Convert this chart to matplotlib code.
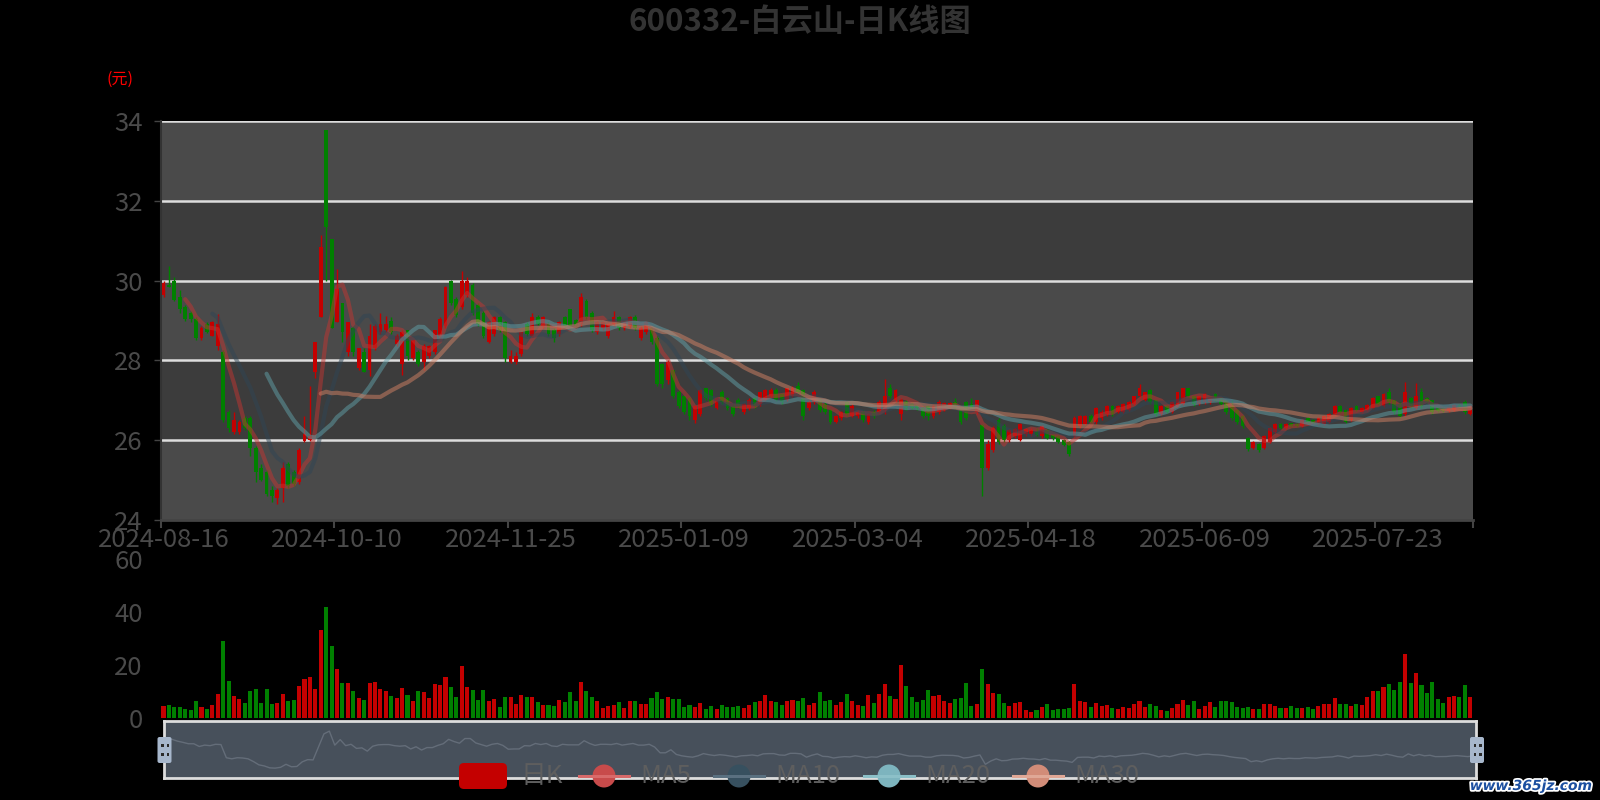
import matplotlib
matplotlib.use('Agg')
import matplotlib.pyplot as plt
import matplotlib.patheffects as pe
from matplotlib.patches import FancyBboxPatch, Circle, Rectangle
import numpy as np
import pandas as pd

plt.rcParams['font.family'] = ['Noto Sans CJK SC', 'DejaVu Sans']

# trading calendar (SSE holidays in the range)
holidays = ['2024-09-16', '2024-09-17', '2024-10-01', '2024-10-02', '2024-10-03',
            '2024-10-04', '2024-10-07', '2025-01-01', '2025-01-28', '2025-01-29',
            '2025-01-30', '2025-01-31', '2025-02-03', '2025-02-04', '2025-04-04',
            '2025-05-01', '2025-05-02', '2025-05-05', '2025-06-02']
dates = pd.bdate_range('2024-08-16', '2025-08-15', freq='C', holidays=holidays)
date_labels = dates.strftime('%Y-%m-%d').tolist()

open_p = [29.65, 29.90, 29.98, 29.60, 29.35, 29.20, 29.05, 28.55, 28.90, 28.60,
          28.35, 28.20, 26.70, 26.20, 26.20, 26.55, 26.55, 25.80, 25.30, 25.20,
          24.75, 24.55, 24.80, 25.40, 25.20, 24.95, 25.98, 26.00, 27.70, 29.10,
          33.77, 31.05, 28.95, 29.45, 28.20, 28.80, 27.80, 28.20, 27.75, 28.30,
          28.70, 28.75, 29.00, 28.40, 27.90, 28.75, 28.05, 28.20, 27.95, 28.10,
          28.20, 28.60, 28.85, 30.00, 29.55, 29.35, 29.65, 29.90, 29.40, 29.20,
          28.45, 28.65, 29.10, 28.95, 27.95, 27.95, 28.15, 28.90, 28.60, 29.10,
          28.85, 28.90, 28.75, 28.65, 29.10, 29.30, 29.00, 28.90, 29.50, 29.20,
          28.70, 28.80, 28.60, 28.90, 29.10, 28.80, 28.85, 29.10, 28.55, 28.70,
          28.80, 28.55, 27.90, 27.50, 27.75, 27.20, 27.10, 27.05, 26.50, 26.65,
          27.30, 27.25, 26.80, 27.20, 27.05, 26.85, 27.00, 26.70, 26.80, 27.05,
          26.90, 27.00, 27.10, 27.25, 27.15, 27.00, 27.10, 27.35, 27.25, 26.80,
          26.95, 27.00, 26.90, 26.75, 26.45, 26.55, 26.95, 26.60, 26.60, 26.70,
          26.45, 26.70, 26.70, 26.75, 27.30, 27.00, 26.65, 26.95, 26.90, 26.88,
          26.80, 26.85, 26.60, 26.70, 26.76, 26.80, 26.95, 26.80, 26.95, 26.90,
          26.70, 26.38, 25.30, 25.75, 26.50, 26.35, 26.00, 26.10, 26.00, 26.15,
          26.15, 26.20, 26.10, 26.25, 26.12, 26.10, 26.00, 25.95, 26.10, 26.35,
          26.40, 26.60, 26.45, 26.55, 26.65, 26.85, 26.70, 26.70, 26.75, 26.90,
          27.10, 27.00, 27.25, 27.00, 26.65, 26.85, 26.70, 26.85, 26.90, 27.30,
          27.10, 26.90, 26.95, 26.95, 27.15, 27.05, 27.00, 26.85, 26.75, 26.60,
          26.05, 25.80, 25.90, 25.80, 25.95, 26.20, 26.40, 26.30, 26.42, 26.40,
          26.35, 26.55, 26.50, 26.40, 26.40, 26.45, 26.65, 26.85, 26.75, 26.50,
          26.85, 26.70, 26.75, 26.80, 27.10, 26.85, 27.20, 27.00, 26.90, 26.65,
          27.05, 26.80, 27.20, 27.05, 27.00, 26.82, 26.80, 26.72, 26.75, 26.88,
          26.95, 26.65]

close_p = [29.95, 29.85, 29.52, 29.30, 29.05, 29.05, 28.55, 28.80, 28.70, 28.95,
           28.90, 26.50, 26.30, 26.50, 26.45, 26.30, 25.80, 25.20, 25.00, 24.65,
           24.60, 24.75, 25.30, 24.85, 24.90, 25.75, 26.15, 26.10, 28.45, 30.85,
           31.35, 28.80, 29.80, 28.70, 28.95, 28.20, 28.30, 27.70, 28.60, 28.85,
           28.90, 28.90, 28.70, 28.60, 28.70, 28.10, 28.50, 27.90, 28.35, 28.35,
           28.75, 29.05, 29.85, 29.45, 29.15, 30.00, 30.00, 29.20, 28.90, 28.60,
           28.95, 29.10, 28.75, 28.05, 28.10, 28.10, 28.70, 28.65, 29.10, 28.90,
           29.10, 28.65, 28.55, 28.95, 28.85, 28.85, 28.85, 29.60, 29.10, 28.75,
           28.95, 28.95, 28.90, 29.10, 28.80, 28.95, 29.10, 28.80, 28.80, 28.95,
           28.45, 27.40, 27.40, 27.95, 27.10, 26.85, 26.70, 26.60, 26.85, 27.25,
           27.05, 26.90, 27.05, 26.95, 26.80, 26.65, 26.85, 26.90, 27.00, 26.85,
           27.20, 27.25, 27.25, 27.00, 26.95, 27.30, 27.30, 27.20, 26.60, 26.95,
           27.20, 26.75, 26.70, 26.45, 26.60, 26.70, 26.65, 26.85, 26.70, 26.50,
           26.65, 26.60, 26.95, 27.10, 27.10, 27.25, 27.00, 26.80, 26.80, 26.80,
           26.60, 26.60, 26.85, 26.95, 26.93, 26.92, 26.80, 26.45, 26.55, 26.80,
           27.00, 25.30, 25.90, 26.30, 25.95, 26.00, 26.25, 26.28, 26.40, 26.28,
           26.25, 26.12, 26.35, 26.05, 26.05, 25.95, 25.88, 25.65, 26.55, 26.60,
           26.60, 26.45, 26.80, 26.70, 26.85, 26.65, 26.85, 26.90, 26.95, 27.10,
           27.30, 27.20, 26.95, 26.65, 26.85, 26.70, 26.95, 27.20, 27.30, 27.10,
           26.90, 27.10, 27.15, 27.05, 27.00, 26.90, 26.70, 26.55, 26.45, 26.35,
           25.78, 25.95, 25.75, 26.10, 26.30, 26.40, 26.30, 26.40, 26.35, 26.35,
           26.50, 26.45, 26.42, 26.55, 26.60, 26.65, 26.85, 26.70, 26.45, 26.80,
           26.75, 26.80, 26.88, 27.05, 26.90, 27.15, 26.95, 26.70, 26.60, 27.20,
           26.85, 27.10, 26.85, 26.95, 26.70, 26.72, 26.72, 26.82, 26.88, 26.80,
           26.70, 26.85]

low_p = [29.60, 29.83, 29.48, 29.20, 29.00, 28.97, 28.50, 28.50, 28.68, 28.60,
         28.25, 26.45, 26.20, 26.15, 26.15, 26.25, 25.60, 24.95, 24.97, 24.60,
         24.45, 24.40, 24.45, 24.80, 24.85, 24.90, 25.95, 25.98, 27.55, 29.10,
         30.00, 28.80, 28.95, 28.45, 28.10, 28.10, 27.75, 27.70, 27.60, 28.25,
         28.65, 28.70, 28.65, 28.35, 27.64, 28.00, 28.00, 27.85, 27.77, 28.05,
         28.15, 28.55, 28.80, 29.40, 29.10, 29.30, 29.60, 29.15, 28.85, 28.55,
         28.43, 28.60, 28.70, 27.95, 27.93, 27.90, 28.10, 28.60, 28.58, 28.88,
         28.80, 28.60, 28.45, 28.60, 28.80, 28.75, 28.82, 28.85, 29.05, 28.70,
         28.65, 28.75, 28.55, 28.85, 28.75, 28.75, 28.82, 28.75, 28.50, 28.65,
         28.40, 27.35, 27.30, 27.40, 27.05, 26.80, 26.65, 26.50, 26.43, 26.60,
         27.00, 26.85, 26.78, 26.90, 26.75, 26.60, 26.80, 26.65, 26.75, 26.80,
         26.85, 26.98, 27.08, 26.98, 26.90, 26.98, 27.08, 27.15, 26.50, 26.75,
         26.90, 26.70, 26.65, 26.40, 26.42, 26.50, 26.60, 26.58, 26.55, 26.45,
         26.40, 26.55, 26.68, 26.65, 27.05, 26.95, 26.50, 26.75, 26.78, 26.75,
         26.55, 26.50, 26.55, 26.65, 26.72, 26.78, 26.78, 26.40, 26.50, 26.78,
         26.65, 24.59, 25.25, 25.70, 25.90, 25.95, 25.95, 26.05, 25.98, 26.10,
         26.10, 26.10, 26.05, 26.02, 26.00, 25.92, 25.85, 25.60, 26.05, 26.30,
         26.38, 26.42, 26.40, 26.50, 26.60, 26.60, 26.68, 26.68, 26.72, 26.88,
         27.05, 26.98, 26.90, 26.60, 26.62, 26.68, 26.68, 26.82, 26.88, 27.05,
         26.85, 26.88, 26.90, 26.90, 26.98, 26.88, 26.65, 26.50, 26.40, 26.30,
         25.72, 25.78, 25.70, 25.78, 25.92, 26.18, 26.28, 26.28, 26.32, 26.32,
         26.32, 26.42, 26.40, 26.38, 26.38, 26.42, 26.62, 26.68, 26.42, 26.48,
         26.72, 26.68, 26.72, 26.78, 26.88, 26.82, 26.90, 26.65, 26.55, 26.60,
         26.80, 26.78, 26.80, 26.92, 26.65, 26.70, 26.70, 26.70, 26.72, 26.78,
         26.65, 26.62]

high_p = [30.00, 30.37, 30.10, 29.77, 29.40, 29.25, 29.10, 28.85, 28.95, 29.00,
          29.17, 28.25, 26.75, 26.70, 26.50, 26.60, 26.60, 25.85, 25.40, 25.25,
          24.85, 24.80, 25.45, 25.45, 25.25, 25.80, 26.60, 27.35, 28.45, 31.15,
          33.77, 31.05, 30.30, 29.45, 28.95, 28.85, 28.30, 28.30, 28.90, 28.90,
          29.20, 29.12, 29.10, 28.65, 28.76, 28.77, 28.50, 28.25, 28.40, 28.38,
          28.77, 29.08, 29.87, 30.02, 29.60, 30.23, 30.10, 29.95, 29.45, 29.25,
          29.00, 29.12, 29.12, 29.00, 28.25, 28.20, 28.72, 28.95, 29.20, 29.15,
          29.12, 28.95, 28.80, 29.00, 29.12, 29.30, 29.05, 29.70, 29.55, 29.25,
          29.00, 28.98, 28.95, 29.25, 29.12, 29.00, 29.12, 29.15, 28.85, 29.00,
          28.85, 28.60, 27.93, 28.02, 27.77, 27.25, 27.12, 27.08, 26.88, 27.28,
          27.32, 27.28, 27.08, 27.25, 27.08, 26.90, 27.05, 26.92, 27.05, 27.08,
          27.22, 27.28, 27.30, 27.30, 27.18, 27.32, 27.35, 27.45, 27.28, 27.00,
          27.25, 27.05, 26.95, 26.78, 26.62, 26.72, 26.98, 26.90, 26.75, 26.75,
          26.68, 26.75, 27.00, 27.53, 27.40, 27.28, 27.05, 27.00, 26.95, 26.90,
          26.85, 26.88, 26.90, 27.00, 26.95, 26.95, 27.05, 26.82, 26.98, 27.05,
          27.02, 26.40, 26.00, 26.35, 26.55, 26.40, 26.28, 26.30, 26.42, 26.30,
          26.30, 26.30, 26.38, 26.28, 26.15, 26.12, 26.02, 25.98, 26.60, 26.62,
          26.62, 26.65, 26.82, 26.75, 26.88, 26.88, 26.88, 26.92, 26.98, 27.12,
          27.42, 27.22, 27.28, 27.02, 26.88, 26.88, 26.98, 27.22, 27.32, 27.32,
          27.12, 27.12, 27.18, 27.08, 27.18, 27.08, 27.02, 27.00, 26.78, 26.62,
          26.08, 25.98, 25.92, 26.12, 26.32, 26.42, 26.42, 26.42, 26.44, 26.42,
          26.52, 26.58, 26.52, 26.58, 26.62, 26.68, 26.88, 26.88, 26.78, 26.82,
          26.88, 26.82, 26.90, 27.08, 27.12, 27.18, 27.30, 27.02, 26.95, 27.47,
          27.08, 27.43, 27.30, 27.08, 27.02, 26.85, 26.82, 26.85, 26.90, 26.90,
          27.02, 26.88]

volume = [4.4, 4.75, 4.25, 4.25, 3.4, 2.9, 6.4, 4.0, 3.5, 4.9,
          9.0, 29.1, 14.0, 8.25, 7.1, 5.5, 10.1, 10.9, 5.6, 10.9,
          5.1, 5.6, 9.0, 6.4, 6.9, 12.25, 14.9, 15.4, 11.1, 33.25,
          41.9, 27.0, 18.4, 13.1, 13.1, 10.1, 7.6, 6.75, 13.1, 13.4,
          11.1, 10.1, 8.25, 7.4, 11.5, 8.6, 6.4, 10.1, 9.9, 7.5,
          12.75, 12.4, 15.4, 11.6, 8.0, 19.5, 11.6, 10.4, 6.75, 10.4,
          6.25, 7.1, 4.1, 7.9, 7.9, 5.25, 8.6, 7.9, 8.1, 6.0,
          5.0, 5.0, 4.4, 6.75, 6.0, 9.75, 6.6, 13.5, 10.1, 7.75,
          6.25, 3.9, 4.6, 5.0, 6.0, 3.9, 6.5, 6.6, 5.4, 5.4,
          7.4, 9.9, 7.1, 8.0, 7.0, 7.0, 4.1, 4.75, 4.25, 5.5,
          3.5, 4.5, 3.4, 4.9, 4.1, 4.1, 4.5, 3.9, 5.0, 6.0,
          6.25, 8.6, 6.5, 5.9, 4.9, 6.4, 6.75, 6.5, 7.5, 4.75,
          5.5, 9.75, 6.6, 6.9, 4.75, 5.9, 9.0, 6.5, 4.9, 4.4,
          8.6, 5.5, 9.1, 12.75, 8.4, 7.1, 19.9, 12.25, 7.9, 6.0,
          6.9, 10.4, 8.25, 8.5, 6.5, 5.6, 7.1, 7.5, 13.1, 4.4,
          5.25, 18.6, 13.0, 9.4, 8.9, 5.5, 4.5, 5.5, 6.0, 3.0,
          2.1, 3.0, 4.1, 5.25, 3.0, 3.4, 3.4, 3.75, 12.75, 6.6,
          6.1, 4.1, 5.6, 4.5, 5.0, 3.75, 3.5, 4.25, 3.75, 5.25,
          6.4, 4.1, 5.25, 4.5, 3.0, 2.5, 3.75, 5.25, 6.75, 4.9,
          6.4, 3.25, 4.5, 6.0, 4.1, 6.4, 6.4, 6.0, 4.1, 3.75,
          4.1, 3.4, 3.4, 5.1, 5.1, 4.5, 3.75, 3.75, 4.4, 3.75,
          3.75, 4.25, 3.4, 4.4, 5.25, 5.25, 7.5, 5.25, 5.1, 4.5,
          5.25, 4.75, 7.75, 10.1, 10.1, 11.6, 12.75, 10.75, 13.5, 24.1,
          13.1, 16.9, 12.4, 9.25, 13.5, 7.1, 5.6, 7.75, 8.25, 7.9,
          12.6, 7.9]

ma_periods = [5, 10, 20, 30]
ma_colors = ['#c23531', '#2f4554', '#61a0a8', '#d48265']
up_color = '#c40000'
down_color = '#008000'
label_color = '#4a4a4a'

n = len(close_p)
x = np.arange(n)
o = np.array(open_p)
c = np.array(close_p)
colors = np.where(c >= o, up_color, down_color)

W, H = 1600, 800


def frac(left, top, right, bottom):
    return [left / W, 1 - bottom / H, (right - left) / W, (bottom - top) / H]


fig = plt.figure(figsize=(16, 8), dpi=100, facecolor='black')

# --- price panel
ax = fig.add_axes(frac(160.8, 121, 1473, 520))
ax.set_facecolor('black')
ax.set_xlim(-0.5, n - 0.5)
ax.set_ylim(24, 34)
for k, y0 in enumerate(range(24, 34, 2)):
    ax.axhspan(y0, y0 + 2, color='#4a4a4a' if k % 2 == 0 else '#3c3c3c', lw=0, zorder=0)
for y0 in range(26, 35, 2):
    ax.axhline(y0, color='#dddddd', lw=1.8, zorder=1)

body_lo = np.minimum(o, c)
body_h = np.maximum(np.abs(c - o), 0.025)
ax.vlines(x, low_p, high_p, colors=colors, lw=1.0, zorder=2)
ax.bar(x, body_h, bottom=body_lo, width=0.7, color=colors, lw=0, zorder=3)

close_s = pd.Series(close_p)
for period, col in zip(ma_periods, ma_colors):
    ma = close_s.rolling(period).mean()
    ax.plot(x, ma, color=col, lw=3, alpha=0.5, zorder=4,
            solid_capstyle='round', solid_joinstyle='round')

for s in ['top', 'right']:
    ax.spines[s].set_visible(False)
ax.spines['left'].set_color('#333333')
ax.spines['left'].set_linewidth(1.5)
ax.spines['bottom'].set_color('#444444')
ax.spines['bottom'].set_linewidth(2)
ax.set_yticks(range(24, 35, 2))
ax.tick_params(axis='y', colors='#444444', labelcolor=label_color, labelsize=18.5, length=5, width=1, pad=8)

label_idx = list(range(0, n, 32))
ax.set_xticks(list(np.arange(-0.5, n, 32)) + [n - 0.5])
ax.set_xticklabels([])
ax.set_xticks(label_idx, minor=True)
ax.set_xticklabels([date_labels[i] for i in label_idx], minor=True)
ax.tick_params(axis='x', which='major', length=6, width=1.5, color='#444444')
ax.tick_params(axis='x', which='minor', length=0, labelcolor=label_color, labelsize=18.5, pad=5)

# --- volume panel
axv = fig.add_axes(frac(160.8, 559, 1473, 718))
axv.set_facecolor('black')
axv.bar(x, volume, width=0.75, color=colors, lw=0)
axv.set_xlim(-0.5, n - 0.5)
axv.set_ylim(0, 60)
axv.set_yticks([0, 20, 40, 60])
axv.set_xticks([])
for s in axv.spines.values():
    s.set_visible(False)
axv.tick_params(axis='y', length=0, labelcolor=label_color, labelsize=18.5, pad=13)

# --- data zoom slider
axz = fig.add_axes(frac(164, 721, 1476, 778))
axz.set_facecolor('#47505b')
axz.plot(x, close_p, color='#646d79', lw=1)
axz.set_xlim(-0.5, n - 0.5)
axz.set_ylim(22.8, 33.2)
axz.set_xticks([])
axz.set_yticks([])
for s in axz.spines.values():
    s.set_color('#dddddd')
    s.set_linewidth(2)

# --- overlay: title, unit, legend, handles, watermark
ov = fig.add_axes([0, 0, 1, 1], zorder=10)
ov.set_xlim(0, W)
ov.set_ylim(H, 0)
ov.axis('off')
ov.patch.set_alpha(0)

ov.text(800, 22, '600332-白云山-日K线图', ha='center', va='center',
        fontsize=22.5, fontweight='bold', color='#333333')
ov.text(120, 79, '(元)', ha='center', va='center', fontsize=11.5, color='red')

for hx in [164.5, 1477]:
    ov.add_patch(FancyBboxPatch((hx - 7, 737), 14, 26, boxstyle='round,pad=0,rounding_size=2',
                                fc='#a7b7cc', ec='none'))
    for dy in [745, 754.5]:
        for dx in [-3.5, 2.0]:
            ov.add_patch(Rectangle((hx + dx, dy - 1.5), 2.5, 3, fc='#2b2b2b', ec='none'))

leg_y = 776
leg_text = '#5e5e5e'
ov.add_patch(FancyBboxPatch((459, 763), 48, 26, boxstyle='round,pad=0,rounding_size=5',
                            fc='#c40000', ec='none'))
ov.text(520, leg_y, '日K', ha='left', va='center', fontsize=18.5, color=leg_text)
leg_items = [(579, 'MA5', '#c84b4b', '#d86a6a'),
             (714, 'MA10', '#37505f', '#5a7080'),
             (864, 'MA20', '#7db4be', '#8cc0c8'),
             (1013, 'MA30', '#d28c78', '#e0a896')]
for lx, name, circ_col, line_col in leg_items:
    ov.plot([lx, lx + 50], [leg_y, leg_y], color=line_col, lw=2.2)
    ov.add_patch(Circle((lx + 25, leg_y), 11.5, fc=circ_col, ec='none'))
    ov.text(lx + 61, leg_y, name, ha='left', va='center', fontsize=18.5, color=leg_text)

ov.text(1592, 786, 'www.365jz.com', ha='right', va='center', fontsize=10,
        fontweight='bold', style='italic', color='#1c4fa0', family='DejaVu Sans',
        path_effects=[pe.withStroke(linewidth=2.5, foreground='white')])

fig.savefig('out.png', dpi=100, facecolor='black')
